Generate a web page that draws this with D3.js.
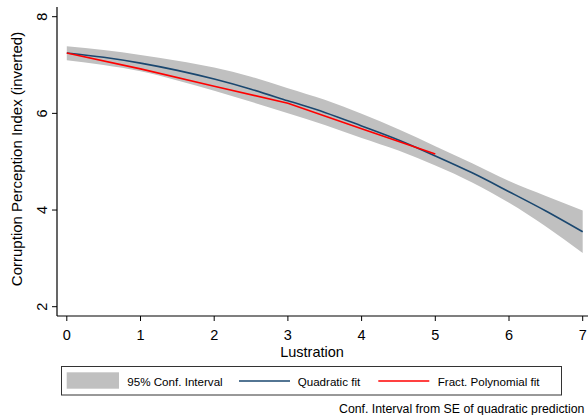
<!DOCTYPE html>
<html><head><meta charset="utf-8">
<script src="https://cdn.jsdelivr.net/npm/d3@7"></script>
<style>body{margin:0;background:#fff}svg{display:block;font-family:"Liberation Sans",Arial,sans-serif}</style>
</head><body><svg id="c" width="588" height="415"></svg>
<script>
const xs      = [0, 0.5, 1, 1.5, 2, 2.5, 3, 3.5, 4, 4.5, 5, 5.5, 6, 6.5, 7];
const quadFit = [7.25, 7.16, 7.04, 6.89, 6.71, 6.50, 6.26, 6.02, 5.74, 5.45, 5.12, 4.77, 4.38, 3.98, 3.55];
const ciUpper = [7.39, 7.31, 7.21, 7.09, 6.95, 6.76, 6.52, 6.28, 5.99, 5.67, 5.32, 4.97, 4.60, 4.29, 3.99];
const ciLower = [7.10, 7.00, 6.87, 6.68, 6.47, 6.24, 6.00, 5.76, 5.49, 5.23, 4.92, 4.57, 4.15, 3.66, 3.11];
const fpX     = [0, 1, 2, 3, 4, 5];
const fpFit   = [7.25, 6.92, 6.56, 6.21, 5.68, 5.16];
const xTicks  = [0, 1, 2, 3, 4, 5, 6, 7];
const yTicks  = [2, 4, 6, 8];
const legendLabels = ["95% Conf. Interval", "Quadratic fit", "Fract. Polynomial fit"];

const svg = d3.select("#c");
const x = d3.scaleLinear().domain([0, 7]).range([66.8, 582.7]);
const y = d3.scaleLinear().domain([2, 8]).range([306.7, 16.7]);
const axX = 57, axY = 316, axTop = 7;

const band = xs.map((v, i) => ({x: v, lo: ciLower[i], hi: ciUpper[i], q: quadFit[i]}));
svg.append("path").datum(band)
  .attr("d", d3.area().x(d => x(d.x)).y0(d => y(d.lo)).y1(d => y(d.hi)).curve(d3.curveMonotoneX))
  .attr("fill", "#c0c0c0");
svg.append("path").datum(band)
  .attr("d", d3.line().x(d => x(d.x)).y(d => y(d.q)).curve(d3.curveMonotoneX))
  .attr("fill", "none").attr("stroke", "#1a476f").attr("stroke-width", 1.6);
svg.append("path").datum(fpX.map((v, i) => [v, fpFit[i]]))
  .attr("d", d3.line().x(d => x(d[0])).y(d => y(d[1])))
  .attr("fill", "none").attr("stroke", "#ff0000").attr("stroke-width", 1.6);

svg.append("line").attr("x1", axX).attr("x2", axX).attr("y1", axTop).attr("y2", axY)
  .attr("stroke", "#000").attr("stroke-width", 1.2);
svg.append("line").attr("x1", axX).attr("x2", 588).attr("y1", axY).attr("y2", axY)
  .attr("stroke", "#000").attr("stroke-width", 1.2);

const gx = svg.append("g");
xTicks.forEach(t => {
  gx.append("line").attr("x1", x(t)).attr("x2", x(t)).attr("y1", axY).attr("y2", axY + 5)
    .attr("stroke", "#000").attr("stroke-width", 1);
  gx.append("text").attr("x", x(t)).attr("y", 339.5).attr("text-anchor", "middle")
    .attr("font-size", 14.5).text(t);
});
const gy = svg.append("g");
yTicks.forEach(t => {
  gy.append("line").attr("x1", axX - 5).attr("x2", axX).attr("y1", y(t)).attr("y2", y(t))
    .attr("stroke", "#000").attr("stroke-width", 1);
  gy.append("text").attr("transform", `translate(46.5,${y(t)}) rotate(-90)`)
    .attr("text-anchor", "middle").attr("font-size", 14.5).text(t);
});

svg.append("text").attr("x", 312).attr("y", 356.5).attr("text-anchor", "middle")
  .attr("font-size", 14.5).text("Lustration");
svg.append("text").attr("transform", "translate(21.5,159) rotate(-90)")
  .attr("text-anchor", "middle").attr("font-size", 15).text("Corruption Perception Index (inverted)");

const lg = svg.append("g");
lg.append("rect").attr("x", 61.5).attr("y", 366.5).attr("width", 500).attr("height", 28.5)
  .attr("fill", "#fff").attr("stroke", "#333").attr("stroke-width", 1);
lg.append("rect").attr("x", 66.7).attr("y", 372.3).attr("width", 52.3).attr("height", 16.4).attr("fill", "#c0c0c0");
lg.append("text").attr("x", 127.3).attr("y", 385.5).attr("font-size", 11.6).text(legendLabels[0]);
lg.append("line").attr("x1", 239).attr("x2", 290).attr("y1", 381).attr("y2", 381).attr("stroke", "#1a476f").attr("stroke-width", 1.6);
lg.append("text").attr("x", 297.7).attr("y", 385.5).attr("font-size", 11.6).text(legendLabels[1]);
lg.append("line").attr("x1", 378.3).attr("x2", 429.3).attr("y1", 381).attr("y2", 381).attr("stroke", "#ff0000").attr("stroke-width", 1.6);
lg.append("text").attr("x", 437.7).attr("y", 385.5).attr("font-size", 11.6).text(legendLabels[2]);

svg.append("text").attr("x", 339).attr("y", 412.5).attr("font-size", 12.3)
  .text("Conf. Interval from SE of quadratic prediction");
</script></body></html>
